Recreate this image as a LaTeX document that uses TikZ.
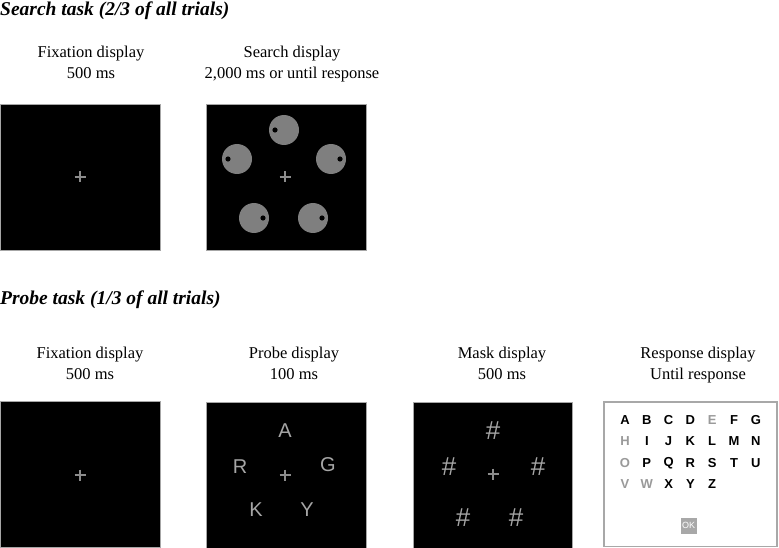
\documentclass[tikz,border=0pt]{standalone}
\usepackage{fontspec}
\setmainfont{Liberation Serif}
\newfontfamily\arialfont{Liberation Sans}

\definecolor{discgray}{HTML}{7F7F7F}
\definecolor{crossgray}{HTML}{8C8C8C}
\definecolor{stimgray}{HTML}{A6A6A6}
\definecolor{fadedgray}{HTML}{9A9A9A}
\definecolor{framegray}{HTML}{A8A8A8}

\begin{document}
\begin{tikzpicture}[x=1pt,y=-1pt,
  screen/.style={fill=black,draw=gray!70,line width=0.6pt},
  cross/.style={draw=crossgray,line width=1.8pt},
  tasktitle/.style={anchor=base west,inner sep=0pt,
    font=\fontsize{19.5}{22}\selectfont\bfseries\itshape},
  caption/.style={align=center,anchor=north,inner sep=0pt,font=\fontsize{16.5}{21}\selectfont},
  probeletter/.style={inner sep=0pt,text=stimgray,font=\arialfont\fontsize{20}{20}\selectfont},
  maskchar/.style={inner sep=0pt,text=stimgray,font=\arialfont\fontsize{26}{26}\selectfont},
  key/.style={inner sep=0pt,font=\arialfont\bfseries\fontsize{13}{13}\selectfont},
  faded-E/.style={text=fadedgray},
  faded-H/.style={text=fadedgray},
  faded-O/.style={text=fadedgray},
  faded-V/.style={text=fadedgray},
  faded-W/.style={text=fadedgray}]

\useasboundingbox (0,0) rectangle (779,548);

% Task titles
\node[tasktitle] (searchtitle) at (0,16) {Search task (2/3 of all trials)};
\node[tasktitle] (probetitle) at (0,304) {Probe task (1/3 of all trials)};

% Display captions
\node[caption] (fixcap1) at (91,46.3) {Fixation display\\500 ms};
\node[caption] (searchcap) at (292,46.3) {Search display\\2,000 ms or until response};
\node[caption] (fixcap2) at (90,346.8) {Fixation display\\500 ms};
\node[caption] (probecap) at (294,346.8) {Probe display\\100 ms};
\node[caption] (maskcap) at (502,346.8) {Mask display\\500 ms};
\node[caption] (respcap) at (698,346.8) {Response display\\Until response};

% Screens
\draw[screen] (0,104) rectangle (160,250);
\draw[screen] (206,104) rectangle (366,250);
\draw[screen] (0,401) rectangle (160,547);
\draw[screen] (206,402) rectangle (366,548);
\draw[screen] (413,402) rectangle (572,548);
\draw[fill=white,draw=framegray,line width=1.5pt] (604,402) rectangle (777,546.5);

% Fixation crosses
\foreach \cx/\cy in {80/177,285/177,80/475,285/475,493/474} {
  \draw[cross] (\cx-5.5,\cy) -- (\cx+5.5,\cy);
  \draw[cross] (\cx,\cy-5.5) -- (\cx,\cy+5.5);
}

% Search discs with gaps
\foreach \dx/\dy/\side in {284/130/-1,237/159/-1,331/159/1,254/218/1,313/218/1} {
  \fill[discgray] (\dx,\dy) circle (15);
  \fill[black] (\dx+9*\side,\dy) circle (2.6);
}

% Probe letters
\node[probeletter] (pA) at (285,431) {A};
\node[probeletter] (pR) at (240,467) {R};
\node[probeletter] (pG) at (328,465) {G};
\node[probeletter] (pK) at (256,510) {K};
\node[probeletter] (pY) at (307,510) {Y};

% Masks
\node[maskchar] (m1) at (493,431) {\#};
\node[maskchar] (m2) at (449,467) {\#};
\node[maskchar] (m3) at (538,467) {\#};
\node[maskchar] (m4) at (463,518) {\#};
\node[maskchar] (m5) at (516,518) {\#};

% Response keyboard
\foreach \row/\letters in {0/{A,B,C,D,E,F,G},1/{H,I,J,K,L,M,N},2/{O,P,Q,R,S,T,U},3/{V,W,X,Y,Z}} {
  \foreach \ch [count=\col from 0] in \letters {
    \node[key,faded-\ch/.try] (key-\ch) at ({625+21.8*\col},{420+21.4*\row}) {\ch};
  }
}

% OK button
\node[fill=framegray,text=white,minimum size=16pt,inner sep=0pt,
  font=\arialfont\fontsize{9}{9}\selectfont] (okbtn) at (688.5,525.5) {OK};

\end{tikzpicture}
\end{document}
